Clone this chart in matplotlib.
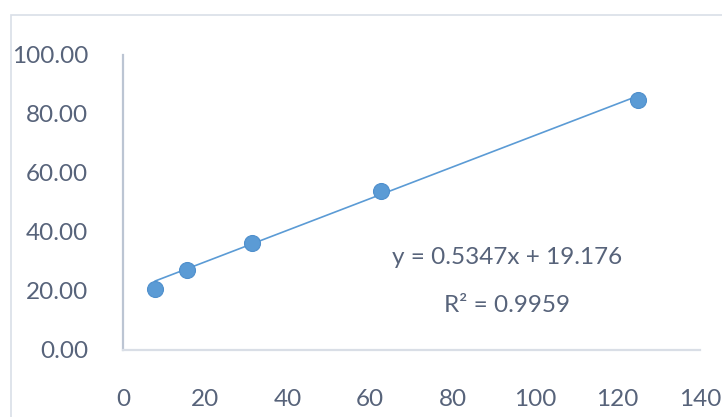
import numpy as np
import matplotlib
matplotlib.use("Agg")
import matplotlib.pyplot as plt
from matplotlib.patches import Rectangle

# Standard curve data
concentration = [7.8125, 15.625, 31.25, 62.5, 125]
response = [20.6, 27.2, 36.3, 53.8, 84.6]

# Linear trendline reported on the chart
slope = 0.5347
intercept = 19.176
r_squared = 0.9959

x_ticks = [0, 20, 40, 60, 80, 100, 120, 140]
y_ticks = [0, 20, 40, 60, 80, 100]

text_color = "#57637a"
point_color = "#5b9bd5"
font_size = 17.5

plt.rcParams["font.family"] = ["Lato", "DejaVu Sans"]

fig = plt.figure(figsize=(7.22, 4.17), dpi=100)
fig.patch.set_facecolor("white")

# Chart-area border
fig.patches.append(Rectangle((10.5 / 722, -0.2), 1.5, 1.2 - 14.5 / 417,
                             transform=fig.transFigure, fill=False,
                             edgecolor="#d9dfe8", linewidth=1.2))

ax = fig.add_axes([123 / 722, 1 - 350 / 417, (700 - 123) / 722, (350 - 54.5) / 417])
ax.set_xlim(0, 140)
ax.set_ylim(0, 100)

# Trendline over the data range
xs = np.array([min(concentration), max(concentration)])
ax.plot(xs, slope * xs + intercept, color=point_color, linewidth=1.2, zorder=2)

ax.plot(concentration, response, linestyle="none", marker="o", markersize=11.5,
        markerfacecolor=point_color, markeredgecolor="#4f8fcc",
        markeredgewidth=0.8, zorder=3)

ax.set_xticks(x_ticks)
ax.set_xticklabels([str(v) for v in x_ticks])
ax.set_yticks(y_ticks)
ax.set_yticklabels([f"{v:.2f}" for v in y_ticks])
ax.tick_params(axis="both", length=0, labelsize=font_size, colors=text_color)
ax.tick_params(axis="x", pad=28)
ax.tick_params(axis="y", pad=25)

for side in ("top", "right"):
    ax.spines[side].set_visible(False)
ax.spines["left"].set_color("#bcc5d3")
ax.spines["left"].set_linewidth(1.6)
ax.spines["bottom"].set_color("#d9dee6")
ax.spines["bottom"].set_linewidth(1.6)

ax.text(507 / 722, 1 - 258 / 417, f"y = {slope}x + {intercept}",
        transform=fig.transFigure, ha="center", va="center",
        fontsize=font_size, color=text_color)
ax.text(507 / 722, 1 - 306 / 417, f"R² = {r_squared}",
        transform=fig.transFigure, ha="center", va="center",
        fontsize=font_size, color=text_color)

fig.savefig("out.png", dpi=100)
